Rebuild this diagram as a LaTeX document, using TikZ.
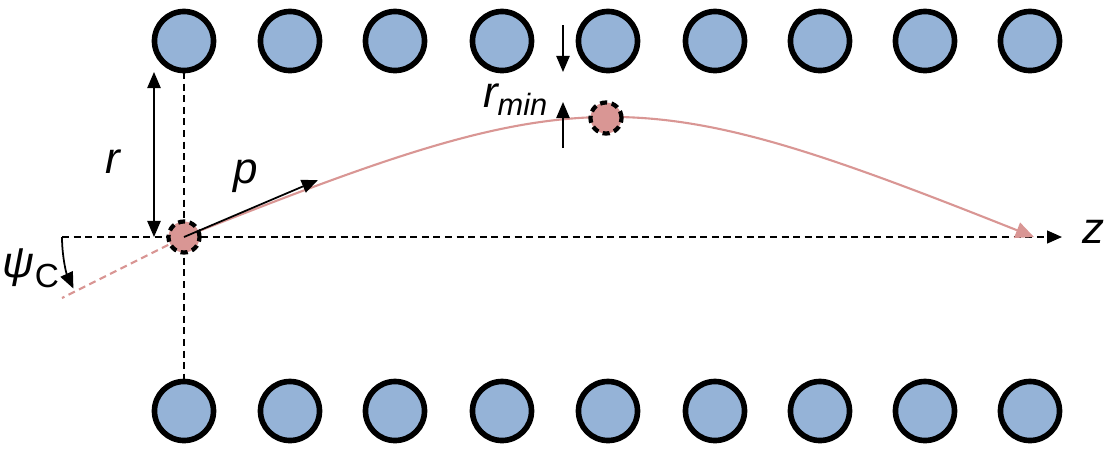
\documentclass[tikz,border=0pt]{standalone}
\usepackage{fontspec}
\setmainfont{Liberation Sans}
\usetikzlibrary{arrows.meta}
\definecolor{rodblue}{HTML}{95B3D7}
\definecolor{ionpink}{HTML}{D99694}
\begin{document}
\begin{tikzpicture}[x=0.01cm,y=0.01cm]
    \tikzstyle{rod}=[circle,draw=black,line width=1.6pt,fill=rodblue,inner sep=0pt,minimum size=0.59cm]
    \tikzstyle{ion}=[circle,draw=black,line width=1.2pt,dash pattern=on 2pt off 1.3pt,fill=ionpink,inner sep=0pt,minimum size=0.31cm]
    \tikzstyle{tip}=[-{Triangle[width=3.8pt,length=4.6pt]}]
    \tikzstyle{lbl}=[font=\fontsize{12.5}{14}\selectfont\itshape,inner sep=0pt]
    \useasboundingbox (0,0) rectangle (1105,-454);
    % rods, top and bottom row
    \node (t1)[rod] at (184,-41) {};
    \node (t2)[rod] at (290,-41) {};
    \node (t3)[rod] at (395,-41) {};
    \node (t4)[rod] at (502,-41) {};
    \node (t5)[rod] at (608,-41) {};
    \node (t6)[rod] at (715,-41) {};
    \node (t7)[rod] at (820,-41) {};
    \node (t8)[rod] at (925,-41) {};
    \node (t9)[rod] at (1030,-41) {};
    \node (b1)[rod] at (184,-411) {};
    \node (b2)[rod] at (290,-411) {};
    \node (b3)[rod] at (395,-411) {};
    \node (b4)[rod] at (502,-411) {};
    \node (b5)[rod] at (608,-411) {};
    \node (b6)[rod] at (715,-411) {};
    \node (b7)[rod] at (820,-411) {};
    \node (b8)[rod] at (925,-411) {};
    \node (b9)[rod] at (1030,-411) {};
    % axes
    \coordinate (zstart) at (62,-237);
    \coordinate (zend) at (1062,-237);
    \coordinate (vtop) at (184,-72);
    \coordinate (vbot) at (184,-382);
    \draw [line width=0.5pt, dash pattern=on 2pt off 1.3pt] (vtop) -- (vbot);
    \draw [line width=0.5pt, dash pattern=on 2pt off 1.3pt, -{Triangle[width=3.6pt,length=4.2pt]}] (zstart) -- (zend);
    \node (z)[lbl] at (1093,-232) {z};
    % trajectory
    \coordinate (zhit) at (1034,-237);
    \coordinate (back) at (62,-298);
    \draw [ionpink, line width=0.6pt, -{Triangle[width=4.6pt,length=5.2pt]}] (184,-237) .. controls (584,-78) and (634,-78) .. (zhit);
    \node (ion0)[ion] at (184,-237) {};
    \node (ionmin)[ion] at (606,-118) {};
    \draw [ionpink, line width=0.6pt, dash pattern=on 2pt off 1.3pt] (ion0) -- (back);
    % momentum and angle
    \coordinate (ptip) at (318,-180);
    \draw [tip, line width=0.5pt] (ion0.center) -- (ptip);
    \node (p)[lbl] at (246,-176) {p};
    \draw [tip, line width=0.5pt] (zstart) arc[start angle=180, end angle=205, radius=122];
    \node (psi)[lbl] at (31,-268) {ψ\raisebox{-0.45ex}{\upshape\fontsize{9.5}{12}\selectfont C}};
    % radius
    \coordinate (rtop) at (154,-72);
    \coordinate (rbot) at (154,-237);
    \draw [{Triangle[width=3.8pt,length=4.6pt]}-{Triangle[width=3.8pt,length=4.6pt]}, line width=0.5pt] (rtop) -- (rbot);
    \node (r)[lbl] at (113,-162) {r};
    % minimum distance
    \coordinate (mtop) at (563,-25);
    \coordinate (mtopend) at (563,-72);
    \coordinate (mbot) at (563,-148);
    \coordinate (mbotend) at (563,-102);
    \draw [tip, line width=0.5pt] (mtop) -- (mtopend);
    \draw [tip, line width=0.5pt] (mbot) -- (mbotend);
    \node (rmin)[lbl] at (516,-100) {r\textsubscript{min}};
\end{tikzpicture}
\end{document}
